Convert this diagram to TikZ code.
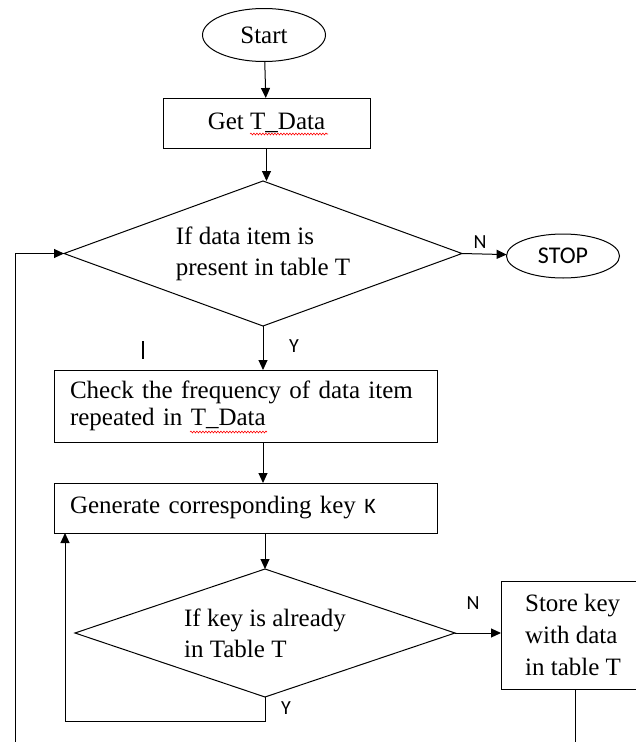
\documentclass[tikz,border=0pt]{standalone}
\usepackage{fontspec}
\setmainfont{Liberation Serif}
\newfontfamily\sansfnt{Carlito}
\usetikzlibrary{shapes.geometric,arrows.meta,decorations.pathmorphing}

\begin{document}
\begin{tikzpicture}[x=1pt,y=-1pt,
  line width=1pt,
  font=\fontsize{25}{31}\selectfont,
  every node/.style={inner sep=0pt, outer sep=0pt},
  term/.style={draw, ellipse},
  procbox/.style={draw, rectangle},
  decision/.style={draw, diamond, align=left},
  flow/.style={-{Triangle[length=10pt,width=9pt]}},
  lbl/.style={font=\sansfnt\fontsize{20}{20}\selectfont},
  squiggle/.style={red, line width=0.6pt, decorate,
    decoration={snake, segment length=3pt, amplitude=0.9pt}}
]
\useasboundingbox (0,0) rectangle (635,742);

% terminals and process steps
\node[term, minimum width=123pt, minimum height=53pt] (start) at (264,35) {Start};
\node[procbox, minimum width=207pt, minimum height=50pt] (get) at (266.5,123) {Get T\_Data};
\node[decision, minimum width=398pt, minimum height=145pt, aspect=2.75] (d1) at (263,253.5)
  {If data item is\\present in table T};
\node[term, minimum width=113pt, minimum height=44pt,
  font=\sansfnt\fontsize{24}{24}\selectfont] (stop) at (563,256) {STOP};
\node[procbox, minimum width=383pt, minimum height=72pt, text width=351pt, align=left,
  font=\fontsize{25}{27}\selectfont] (check) at (245.5,406)
  {Check the frequency of data item\\repeated in T\_Data};
\node[procbox, minimum width=383pt, minimum height=50pt, text width=351pt, align=left] (gen) at (245.5,508)
  {Generate corresponding key {\sansfnt\fontsize{22}{22}\selectfont K}};
\node[decision, minimum width=380pt, minimum height=128pt, aspect=3] (d2) at (265,633)
  {If key is already\\in Table T};
\node[procbox, minimum width=144pt, minimum height=108pt, align=left,
  font=\fontsize{25}{32}\selectfont] (store) at (573,635)
  {Store key\\with data\\in table T};

% branch labels
\node[lbl] (n1) at (480,242) {N};
\node[lbl] (y1) at (294,346) {Y};
\node[lbl] (n2) at (473,603) {N};
\node[lbl] (y2) at (286,708) {Y};

% stray cursor mark
\draw[line width=2.6pt] (143,341) -- (143,359);

% spell-check underlines
\draw[squiggle] (250,134) -- (328,134);
\draw[squiggle] (190,432) -- (267,432);

% connectors
\draw[flow] (start) -- (get);
\draw[flow] (get) -- (get |- d1.north);
\draw[flow] (d1.east) -- (stop);
\draw[flow] (d1.south) -- (d1.south |- check.north);
\draw[flow] (check.south -| d1.south) -- (gen.north -| d1.south);
\draw[flow] (gen.south -| d2.north) -- (d2.north);
\draw[flow] (d2.east) -- (store.west |- d2.east);
\draw[flow] (d2.south) -- ++(0,24) -| ([xshift=11pt]gen.south west);

\coordinate (loopfoot) at (15,760);
\draw[flow] (loopfoot) |- (d1.west);
\coordinate (storefoot) at (575,760);
\draw (store.south -| storefoot) -- (storefoot);
\end{tikzpicture}
\end{document}
